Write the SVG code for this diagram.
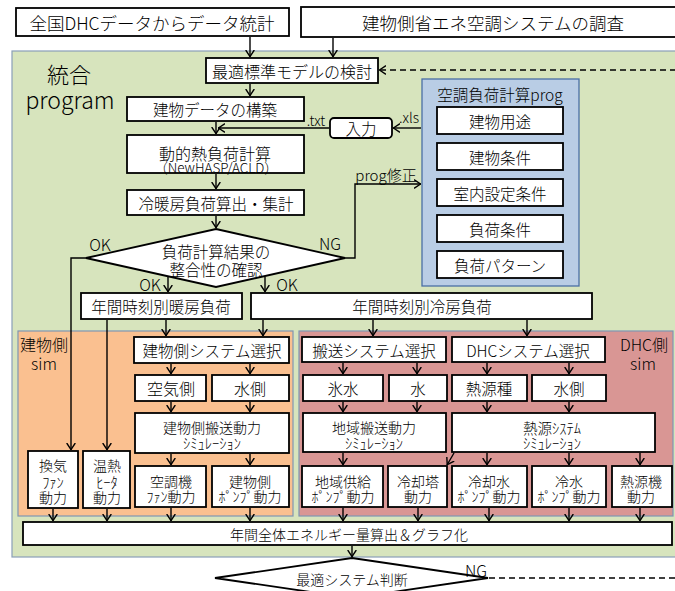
<svg xmlns="http://www.w3.org/2000/svg" width="675" height="591" viewBox="0 0 675 591">
<style>
text{font-family:"Noto Sans CJK JP","Noto Sans",sans-serif;font-weight:300;fill:#000;text-anchor:middle;dominant-baseline:central}
.b{fill:#fff;stroke:#000;stroke-width:1.8}
.l{fill:none;stroke:#000;stroke-width:1.4}
.a{marker-end:url(#ah)}
.d{fill:none;stroke:#000;stroke-width:1.4;stroke-dasharray:6 4}
.f16{font-size:16px}.f15{font-size:15.5px}.f14{font-size:14px}.f17{font-size:17.5px}
.h{font-size:14.5px}
</style>
<defs>
<marker id="ah" viewBox="0 0 7 10" refX="7" refY="5" markerWidth="7" markerHeight="10" markerUnits="userSpaceOnUse" orient="auto">
<path d="M0,0.7 L6.6,5 L0,9.3" fill="none" stroke="#000" stroke-width="1.4"/>
</marker>
</defs>
<rect width="675" height="591" fill="#fff"/>
<g id="panel-integrated">
<rect x="12" y="51" width="680" height="506" fill="#D7E4BD" stroke="#8A9FB8" stroke-width="1.2"/>
<text x="69" y="73" style="font-size:22px">統合<tspan x="70" dy="26" style="font-size:23px">program</tspan></text>
</g>
<g id="panel-building-sim">
<rect x="18" y="331" width="275" height="185" fill="#FAC090" stroke="#7F96B2" stroke-width="1.2"/>
<text x="44" y="344" class="f16">建物側<tspan x="44" dy="19">sim</tspan></text>
</g>
<g id="panel-dhc-sim">
<rect x="299" y="331" width="374" height="185" fill="#D99694" stroke="#7F96B2" stroke-width="1.2"/>
<text x="644" y="344" class="f16">DHC側<tspan x="643" dy="19">sim</tspan></text>
</g>
<g id="panel-prog">
<rect x="422" y="79" width="157" height="207" fill="#B9CDE5" stroke="#4A6FA5" stroke-width="1.3"/>
<text x="500" y="94" class="f15">空調負荷計算prog</text>
</g>
<g id="n-dhc-stat"><rect class="b" x="16" y="8" width="273" height="28"/><text x="152" y="22" class="f17">全国DHCデータからデータ統計</text></g>
<g id="n-survey"><rect class="b" x="301" y="7" width="390" height="30"/><text x="493" y="22" class="f17">建物側省エネ空調システムの調査</text></g>
<g id="n-model"><rect class="b" x="206" y="58" width="172" height="25"/><text x="292" y="70.5" class="f16">最適標準モデルの検討</text></g>
<g id="n-bldg-data"><rect class="b" x="127" y="97" width="177" height="24"/><text x="215" y="109" class="f15">建物データの構築</text></g>
<g id="n-input"><rect class="b" x="330" y="118" width="62" height="20" rx="4"/><text x="361" y="128" class="f15">入力</text></g>
<g id="n-dynamic"><rect class="b" x="127" y="135" width="177" height="38"/><text x="215" y="152.5" class="f16">動的熱負荷計算<tspan x="216" dy="14.5" style="font-size:13.5px">（NewHASP/ACLD）</tspan></text></g>
<g id="n-load-sum"><rect class="b" x="127" y="190" width="177" height="25"/><text x="216" y="202.5" class="f15">冷暖房負荷算出・集計</text></g>
<g id="n-check"><polygon class="b" points="216,229 345,258 216,287 86,258"/><text x="216" y="251" class="f15">負荷計算結果の<tspan x="216" dy="18">整合性の確認</tspan></text></g>
<g id="n-use"><rect class="b" x="437" y="107" width="126" height="27"/><text x="500" y="120.5" class="f15">建物用途</text></g>
<g id="n-cond"><rect class="b" x="437" y="143" width="126" height="27"/><text x="500" y="156.5" class="f15">建物条件</text></g>
<g id="n-indoor"><rect class="b" x="437" y="179" width="126" height="27"/><text x="500" y="192.5" class="f15">室内設定条件</text></g>
<g id="n-loadcond"><rect class="b" x="437" y="215" width="126" height="27"/><text x="500" y="228.5" class="f15">負荷条件</text></g>
<g id="n-pattern"><rect class="b" x="437" y="251" width="126" height="27"/><text x="500" y="264.5" class="f15">負荷パターン</text></g>
<g id="n-heat-load"><rect class="b" x="81" y="293" width="161" height="26"/><text x="161" y="306" class="f15">年間時刻別暖房負荷</text></g>
<g id="n-cool-load"><rect class="b" x="251" y="293" width="341" height="26"/><text x="422" y="306" class="f15">年間時刻別冷房負荷</text></g>
<g id="n-bsys"><rect class="b" x="134" y="337" width="155" height="26"/><text x="212" y="350" class="f15">建物側システム選択</text></g>
<g id="n-air"><rect class="b" x="135" y="375" width="71" height="26"/><text x="171" y="388" class="f16">空気側</text></g>
<g id="n-water"><rect class="b" x="212" y="375" width="77" height="26"/><text x="250" y="388" class="f16">水側</text></g>
<g id="n-bsim"><rect class="b" x="135" y="413" width="154" height="40"/><text x="212" y="427" class="f14">建物側搬送動力<tspan x="212" dy="15" class="h">ｼﾐｭﾚｰｼｮﾝ</tspan></text></g>
<g id="n-vent"><rect class="b" x="28" y="451" width="50" height="57"/><text x="53" y="465" class="f14">換気<tspan x="53" dy="16" class="h">ﾌｧﾝ</tspan><tspan x="53" dy="16">動力</tspan></text></g>
<g id="n-heater"><rect class="b" x="83" y="451" width="47" height="57"/><text x="107" y="465" class="f14">温熱<tspan x="107" dy="16" class="h">ﾋｰﾀ</tspan><tspan x="107" dy="16">動力</tspan></text></g>
<g id="n-ahu"><rect class="b" x="135" y="466" width="71" height="41"/><text x="171" y="481" class="f14">空調機<tspan x="171" dy="15">ﾌｧﾝ動力</tspan></text></g>
<g id="n-bpump"><rect class="b" x="212" y="466" width="77" height="41"/><text x="250" y="481" class="f14">建物側<tspan x="250" dy="15">ﾎﾟﾝﾌﾟ動力</tspan></text></g>
<g id="n-tsys"><rect class="b" x="302" y="337" width="144" height="25"/><text x="374" y="349.5" class="f15">搬送システム選択</text></g>
<g id="n-dsys"><rect class="b" x="452" y="337" width="153" height="25"/><text x="528" y="349.5" class="f15">DHCシステム選択</text></g>
<g id="n-ice"><rect class="b" x="303" y="375" width="80" height="26"/><text x="343" y="388" class="f15">氷水</text></g>
<g id="n-w"><rect class="b" x="389" y="375" width="58" height="26"/><text x="418" y="388" class="f15">水</text></g>
<g id="n-src"><rect class="b" x="452" y="375" width="75" height="26"/><text x="489" y="388" class="f15">熱源種</text></g>
<g id="n-wside"><rect class="b" x="532" y="375" width="74" height="26"/><text x="569" y="388" class="f15">水側</text></g>
<g id="n-dtsim"><rect class="b" x="303" y="413" width="143" height="39"/><text x="374" y="427" class="f14">地域搬送動力<tspan x="374" dy="15" class="h">ｼﾐｭﾚｰｼｮﾝ</tspan></text></g>
<g id="n-hssim"><rect class="b" x="452" y="413" width="203" height="39"/><text x="552" y="427" class="h">熱源ｼｽﾃﾑ<tspan x="552" dy="15">ｼﾐｭﾚｰｼｮﾝ</tspan></text></g>
<g id="n-dpump"><rect class="b" x="302" y="466" width="81" height="41"/><text x="343" y="481" class="f14">地域供給<tspan x="343" dy="15">ﾎﾟﾝﾌﾟ動力</tspan></text></g>
<g id="n-tower"><rect class="b" x="388" y="466" width="59" height="41"/><text x="418" y="481" class="f14">冷却塔<tspan x="418" dy="15">動力</tspan></text></g>
<g id="n-cwpump"><rect class="b" x="452" y="466" width="75" height="41"/><text x="489" y="481" class="f14">冷却水<tspan x="489" dy="15">ﾎﾟﾝﾌﾟ動力</tspan></text></g>
<g id="n-chpump"><rect class="b" x="532" y="466" width="74" height="41"/><text x="569" y="481" class="f14">冷水<tspan x="569" dy="15">ﾎﾟﾝﾌﾟ動力</tspan></text></g>
<g id="n-hsrc"><rect class="b" x="612" y="466" width="60" height="41"/><text x="641" y="481" class="f14">熱源機<tspan x="641" dy="15">動力</tspan></text></g>
<g id="n-total"><rect class="b" x="23" y="522" width="649" height="23"/><text x="349" y="533.5" class="f14">年間全体エネルギー量算出＆グラフ化</text></g>
<g id="n-judge"><polygon class="b" points="352,558 488,578 352,598 215,578"/><text x="352" y="579" class="f14">最適システム判断</text></g>
<g id="connectors">
<line class="l a" x1="250" y1="37" x2="250" y2="57"/>
<line class="l a" x1="333" y1="38" x2="333" y2="57"/>
<line class="d a" x1="676" y1="70" x2="379" y2="70"/>
<line class="l a" x1="250" y1="84" x2="250" y2="96"/>
<line class="l a" x1="216" y1="122" x2="216" y2="134"/>
<line class="l a" x1="329" y1="128" x2="218" y2="128"/>
<line class="l a" x1="421" y1="128" x2="393" y2="128"/>
<line class="l a" x1="216" y1="174" x2="216" y2="189"/>
<line class="l a" x1="216" y1="216" x2="216" y2="228"/>
<polyline class="l a" points="86,258 71,258 71,450"/>
<polyline class="l a" points="345,258 355,258 355,184 421,184"/>
<line class="l a" x1="168" y1="277" x2="168" y2="292"/>
<line class="l a" x1="265" y1="277" x2="265" y2="292"/>
<line class="l a" x1="107" y1="320" x2="107" y2="450"/>
<line class="l a" x1="166" y1="320" x2="166" y2="336"/>
<line class="l a" x1="263" y1="320" x2="263" y2="336"/>
<line class="l a" x1="373" y1="320" x2="373" y2="336"/>
<line class="l a" x1="527" y1="320" x2="527" y2="336"/>
<line class="l a" x1="171" y1="364" x2="171" y2="374"/>
<line class="l a" x1="250" y1="364" x2="250" y2="374"/>
<line class="l a" x1="343" y1="363" x2="343" y2="374"/>
<line class="l a" x1="417" y1="363" x2="417" y2="374"/>
<line class="l a" x1="487" y1="363" x2="487" y2="374"/>
<line class="l a" x1="569" y1="363" x2="569" y2="374"/>
<line class="l a" x1="171" y1="402" x2="171" y2="412"/>
<line class="l a" x1="250" y1="402" x2="250" y2="412"/>
<line class="l a" x1="343" y1="402" x2="343" y2="412"/>
<line class="l a" x1="417" y1="402" x2="417" y2="412"/>
<line class="l a" x1="487" y1="402" x2="487" y2="412"/>
<line class="l a" x1="569" y1="402" x2="569" y2="412"/>
<line class="l a" x1="171" y1="454" x2="171" y2="465"/>
<line class="l a" x1="250" y1="454" x2="250" y2="465"/>
<line class="l a" x1="343" y1="453" x2="343" y2="465"/>
<line class="l a" x1="454" y1="453" x2="447" y2="465"/>
<line class="l a" x1="487" y1="453" x2="487" y2="465"/>
<line class="l a" x1="569" y1="453" x2="569" y2="465"/>
<line class="l a" x1="640" y1="453" x2="640" y2="465"/>
<line class="l a" x1="53" y1="509" x2="53" y2="521"/>
<line class="l a" x1="107" y1="509" x2="107" y2="521"/>
<line class="l a" x1="171" y1="508" x2="171" y2="521"/>
<line class="l a" x1="250" y1="508" x2="250" y2="521"/>
<line class="l a" x1="343" y1="508" x2="343" y2="521"/>
<line class="l a" x1="418" y1="508" x2="418" y2="521"/>
<line class="l a" x1="489" y1="508" x2="489" y2="521"/>
<line class="l a" x1="569" y1="508" x2="569" y2="521"/>
<line class="l a" x1="640" y1="508" x2="640" y2="521"/>
<line class="l a" x1="352" y1="546" x2="352" y2="557"/>
<line class="d" x1="489" y1="578" x2="676" y2="578"/>
<text x="316" y="120" class="f14">.txt</text>
<text x="409" y="117" class="f14">.xls</text>
<text x="100" y="244" class="f16">OK</text>
<text x="330" y="243" class="f16">NG</text>
<text x="386" y="174" style="font-size:15px">prog修正</text>
<text x="150" y="284" class="f16">OK</text>
<text x="287" y="284" class="f16">OK</text>
<text x="476" y="570" class="f16">NG</text>
</g>
</svg>
